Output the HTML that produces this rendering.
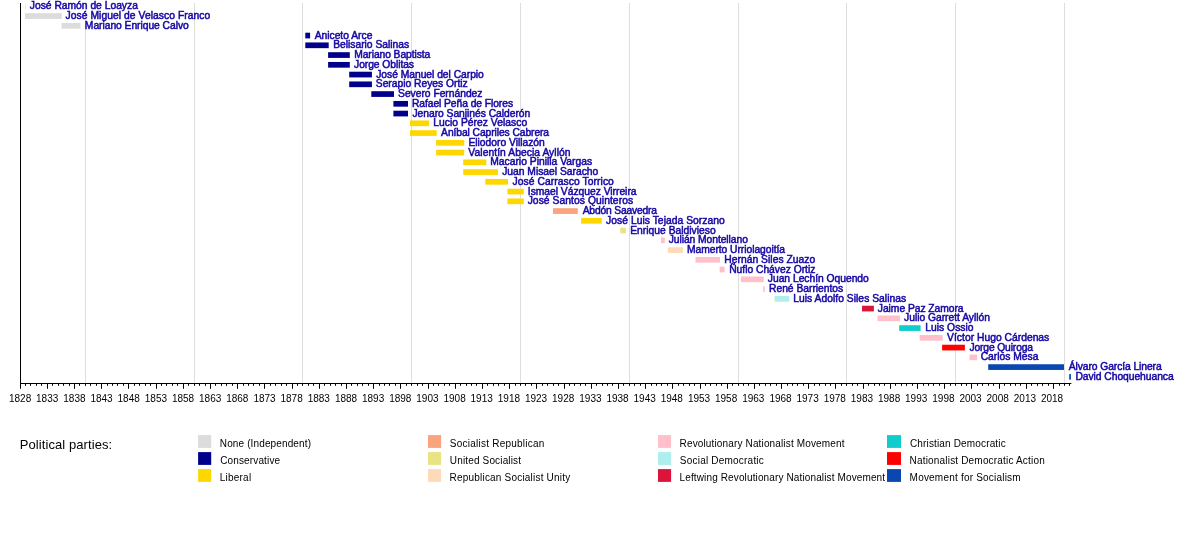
<!DOCTYPE html>
<html lang="es"><head><meta charset="utf-8"><title>Vicepresidentes de Bolivia</title>
<style>
html,body{margin:0;padding:0;background:#fff}
svg{display:block}
text{font-family:"Liberation Sans",sans-serif}
.n{font-size:10.3px;fill:#1607a4;stroke:#1607a4;stroke-width:.5px}
.y{font-size:10px;fill:#000;text-anchor:middle}
.l{font-size:10px;fill:#000}
.t{font-size:13px;fill:#000}
</style></head><body>
<svg width="1200" height="533" viewBox="0 0 1200 533">
<rect width="1200" height="533" fill="#fff"/>
<rect x="85" y="3" width="1" height="380" fill="#dedede"/>
<rect x="194" y="3" width="1" height="380" fill="#dedede"/>
<rect x="302" y="3" width="1" height="380" fill="#dedede"/>
<rect x="411" y="3" width="1" height="380" fill="#dedede"/>
<rect x="520" y="3" width="1" height="380" fill="#dedede"/>
<rect x="629" y="3" width="1" height="380" fill="#dedede"/>
<rect x="738" y="3" width="1" height="380" fill="#dedede"/>
<rect x="846" y="3" width="1" height="380" fill="#dedede"/>
<rect x="955" y="3" width="1" height="380" fill="#dedede"/>
<rect x="1064" y="3" width="1" height="380" fill="#dedede"/>
<rect x="25.0" y="3.45" width="1.0" height="5.7" fill="#dcdcdc" opacity=".55"/>
<rect x="25.0" y="13.20" width="36.7" height="5.7" fill="#dcdcdc"/>
<rect x="61.6" y="22.95" width="18.9" height="5.7" fill="#dcdcdc"/>
<rect x="305.3" y="32.70" width="4.8" height="5.7" fill="#00008b"/>
<rect x="305.3" y="42.45" width="23.4" height="5.7" fill="#00008b"/>
<rect x="328.1" y="52.20" width="21.7" height="5.7" fill="#00008b"/>
<rect x="328.1" y="61.96" width="21.7" height="5.7" fill="#00008b"/>
<rect x="349.2" y="71.71" width="22.7" height="5.7" fill="#00008b"/>
<rect x="349.2" y="81.46" width="22.7" height="5.7" fill="#00008b"/>
<rect x="371.3" y="91.21" width="22.7" height="5.7" fill="#00008b"/>
<rect x="393.4" y="100.96" width="14.6" height="5.7" fill="#00008b"/>
<rect x="393.4" y="110.71" width="14.6" height="5.7" fill="#00008b"/>
<rect x="410.0" y="120.46" width="19.0" height="5.7" fill="#ffd700"/>
<rect x="410.0" y="130.21" width="26.7" height="5.7" fill="#ffd700"/>
<rect x="436.1" y="139.96" width="28.1" height="5.7" fill="#ffd700"/>
<rect x="436.1" y="149.72" width="28.1" height="5.7" fill="#ffd700"/>
<rect x="463.2" y="159.47" width="23.1" height="5.7" fill="#ffd700"/>
<rect x="463.2" y="169.22" width="34.7" height="5.7" fill="#ffd700"/>
<rect x="485.3" y="178.97" width="22.7" height="5.7" fill="#ffd700"/>
<rect x="507.4" y="188.72" width="16.4" height="5.7" fill="#ffd700"/>
<rect x="507.4" y="198.47" width="16.4" height="5.7" fill="#ffd700"/>
<rect x="553.0" y="208.22" width="24.8" height="5.7" fill="#f9a47c"/>
<rect x="581.1" y="217.97" width="20.7" height="5.7" fill="#ffd700"/>
<rect x="620.3" y="227.72" width="5.6" height="5.7" fill="#e9e383"/>
<rect x="661.0" y="237.47" width="3.8" height="5.7" fill="#ffc0cb"/>
<rect x="667.8" y="247.22" width="15.1" height="5.7" fill="#ffdab9"/>
<rect x="695.5" y="256.98" width="24.5" height="5.7" fill="#ffc0cb"/>
<rect x="719.6" y="266.73" width="5.0" height="5.7" fill="#ffc0cb"/>
<rect x="741.0" y="276.48" width="22.7" height="5.7" fill="#ffc0cb"/>
<rect x="763.1" y="286.23" width="1.6" height="5.7" fill="#ffc0cb"/>
<rect x="774.6" y="295.98" width="14.6" height="5.7" fill="#afeeee"/>
<rect x="862.0" y="305.73" width="11.9" height="5.7" fill="#dc143c"/>
<rect x="877.5" y="315.48" width="22.5" height="5.7" fill="#ffc0cb"/>
<rect x="899.2" y="325.23" width="21.4" height="5.7" fill="#10cccc"/>
<rect x="919.6" y="334.98" width="23.1" height="5.7" fill="#ffc0cb"/>
<rect x="942.1" y="344.73" width="22.8" height="5.7" fill="#ff0000"/>
<rect x="969.5" y="354.49" width="7.6" height="5.7" fill="#ffc0cb"/>
<rect x="988.2" y="364.24" width="75.8" height="5.7" fill="#0b47b0"/>
<rect x="1069.2" y="373.99" width="1.7" height="5.7" fill="#0b47b0"/>
<rect x="20" y="3" width="1" height="381" fill="#000"/>
<rect x="20" y="383" width="1051.3" height="1" fill="#000"/>
<rect x="20" y="383" width="1" height="5.8" fill="#000"/>
<rect x="25" y="383" width="1" height="2.8" fill="#000"/>
<rect x="30" y="383" width="1" height="2.8" fill="#000"/>
<rect x="36" y="383" width="1" height="2.8" fill="#000"/>
<rect x="41" y="383" width="1" height="2.8" fill="#000"/>
<rect x="47" y="383" width="1" height="5.8" fill="#000"/>
<rect x="52" y="383" width="1" height="2.8" fill="#000"/>
<rect x="58" y="383" width="1" height="2.8" fill="#000"/>
<rect x="63" y="383" width="1" height="2.8" fill="#000"/>
<rect x="69" y="383" width="1" height="2.8" fill="#000"/>
<rect x="74" y="383" width="1" height="5.8" fill="#000"/>
<rect x="79" y="383" width="1" height="2.8" fill="#000"/>
<rect x="85" y="383" width="1" height="2.8" fill="#000"/>
<rect x="90" y="383" width="1" height="2.8" fill="#000"/>
<rect x="96" y="383" width="1" height="2.8" fill="#000"/>
<rect x="101" y="383" width="1" height="5.8" fill="#000"/>
<rect x="107" y="383" width="1" height="2.8" fill="#000"/>
<rect x="112" y="383" width="1" height="2.8" fill="#000"/>
<rect x="117" y="383" width="1" height="2.8" fill="#000"/>
<rect x="123" y="383" width="1" height="2.8" fill="#000"/>
<rect x="128" y="383" width="1" height="5.8" fill="#000"/>
<rect x="134" y="383" width="1" height="2.8" fill="#000"/>
<rect x="139" y="383" width="1" height="2.8" fill="#000"/>
<rect x="145" y="383" width="1" height="2.8" fill="#000"/>
<rect x="150" y="383" width="1" height="2.8" fill="#000"/>
<rect x="156" y="383" width="1" height="5.8" fill="#000"/>
<rect x="161" y="383" width="1" height="2.8" fill="#000"/>
<rect x="166" y="383" width="1" height="2.8" fill="#000"/>
<rect x="172" y="383" width="1" height="2.8" fill="#000"/>
<rect x="177" y="383" width="1" height="2.8" fill="#000"/>
<rect x="183" y="383" width="1" height="5.8" fill="#000"/>
<rect x="188" y="383" width="1" height="2.8" fill="#000"/>
<rect x="194" y="383" width="1" height="2.8" fill="#000"/>
<rect x="199" y="383" width="1" height="2.8" fill="#000"/>
<rect x="205" y="383" width="1" height="2.8" fill="#000"/>
<rect x="210" y="383" width="1" height="5.8" fill="#000"/>
<rect x="215" y="383" width="1" height="2.8" fill="#000"/>
<rect x="221" y="383" width="1" height="2.8" fill="#000"/>
<rect x="226" y="383" width="1" height="2.8" fill="#000"/>
<rect x="232" y="383" width="1" height="2.8" fill="#000"/>
<rect x="237" y="383" width="1" height="5.8" fill="#000"/>
<rect x="243" y="383" width="1" height="2.8" fill="#000"/>
<rect x="248" y="383" width="1" height="2.8" fill="#000"/>
<rect x="253" y="383" width="1" height="2.8" fill="#000"/>
<rect x="259" y="383" width="1" height="2.8" fill="#000"/>
<rect x="264" y="383" width="1" height="5.8" fill="#000"/>
<rect x="270" y="383" width="1" height="2.8" fill="#000"/>
<rect x="275" y="383" width="1" height="2.8" fill="#000"/>
<rect x="281" y="383" width="1" height="2.8" fill="#000"/>
<rect x="286" y="383" width="1" height="2.8" fill="#000"/>
<rect x="292" y="383" width="1" height="5.8" fill="#000"/>
<rect x="297" y="383" width="1" height="2.8" fill="#000"/>
<rect x="302" y="383" width="1" height="2.8" fill="#000"/>
<rect x="308" y="383" width="1" height="2.8" fill="#000"/>
<rect x="313" y="383" width="1" height="2.8" fill="#000"/>
<rect x="319" y="383" width="1" height="5.8" fill="#000"/>
<rect x="324" y="383" width="1" height="2.8" fill="#000"/>
<rect x="330" y="383" width="1" height="2.8" fill="#000"/>
<rect x="335" y="383" width="1" height="2.8" fill="#000"/>
<rect x="341" y="383" width="1" height="2.8" fill="#000"/>
<rect x="346" y="383" width="1" height="5.8" fill="#000"/>
<rect x="351" y="383" width="1" height="2.8" fill="#000"/>
<rect x="357" y="383" width="1" height="2.8" fill="#000"/>
<rect x="362" y="383" width="1" height="2.8" fill="#000"/>
<rect x="368" y="383" width="1" height="2.8" fill="#000"/>
<rect x="373" y="383" width="1" height="5.8" fill="#000"/>
<rect x="379" y="383" width="1" height="2.8" fill="#000"/>
<rect x="384" y="383" width="1" height="2.8" fill="#000"/>
<rect x="389" y="383" width="1" height="2.8" fill="#000"/>
<rect x="395" y="383" width="1" height="2.8" fill="#000"/>
<rect x="400" y="383" width="1" height="5.8" fill="#000"/>
<rect x="406" y="383" width="1" height="2.8" fill="#000"/>
<rect x="411" y="383" width="1" height="2.8" fill="#000"/>
<rect x="417" y="383" width="1" height="2.8" fill="#000"/>
<rect x="422" y="383" width="1" height="2.8" fill="#000"/>
<rect x="428" y="383" width="1" height="5.8" fill="#000"/>
<rect x="433" y="383" width="1" height="2.8" fill="#000"/>
<rect x="438" y="383" width="1" height="2.8" fill="#000"/>
<rect x="444" y="383" width="1" height="2.8" fill="#000"/>
<rect x="449" y="383" width="1" height="2.8" fill="#000"/>
<rect x="455" y="383" width="1" height="5.8" fill="#000"/>
<rect x="460" y="383" width="1" height="2.8" fill="#000"/>
<rect x="466" y="383" width="1" height="2.8" fill="#000"/>
<rect x="471" y="383" width="1" height="2.8" fill="#000"/>
<rect x="476" y="383" width="1" height="2.8" fill="#000"/>
<rect x="482" y="383" width="1" height="5.8" fill="#000"/>
<rect x="487" y="383" width="1" height="2.8" fill="#000"/>
<rect x="493" y="383" width="1" height="2.8" fill="#000"/>
<rect x="498" y="383" width="1" height="2.8" fill="#000"/>
<rect x="504" y="383" width="1" height="2.8" fill="#000"/>
<rect x="509" y="383" width="1" height="5.8" fill="#000"/>
<rect x="515" y="383" width="1" height="2.8" fill="#000"/>
<rect x="520" y="383" width="1" height="2.8" fill="#000"/>
<rect x="525" y="383" width="1" height="2.8" fill="#000"/>
<rect x="531" y="383" width="1" height="2.8" fill="#000"/>
<rect x="536" y="383" width="1" height="5.8" fill="#000"/>
<rect x="542" y="383" width="1" height="2.8" fill="#000"/>
<rect x="547" y="383" width="1" height="2.8" fill="#000"/>
<rect x="553" y="383" width="1" height="2.8" fill="#000"/>
<rect x="558" y="383" width="1" height="2.8" fill="#000"/>
<rect x="564" y="383" width="1" height="5.8" fill="#000"/>
<rect x="569" y="383" width="1" height="2.8" fill="#000"/>
<rect x="574" y="383" width="1" height="2.8" fill="#000"/>
<rect x="580" y="383" width="1" height="2.8" fill="#000"/>
<rect x="585" y="383" width="1" height="2.8" fill="#000"/>
<rect x="591" y="383" width="1" height="5.8" fill="#000"/>
<rect x="596" y="383" width="1" height="2.8" fill="#000"/>
<rect x="602" y="383" width="1" height="2.8" fill="#000"/>
<rect x="607" y="383" width="1" height="2.8" fill="#000"/>
<rect x="612" y="383" width="1" height="2.8" fill="#000"/>
<rect x="618" y="383" width="1" height="5.8" fill="#000"/>
<rect x="623" y="383" width="1" height="2.8" fill="#000"/>
<rect x="629" y="383" width="1" height="2.8" fill="#000"/>
<rect x="634" y="383" width="1" height="2.8" fill="#000"/>
<rect x="640" y="383" width="1" height="2.8" fill="#000"/>
<rect x="645" y="383" width="1" height="5.8" fill="#000"/>
<rect x="651" y="383" width="1" height="2.8" fill="#000"/>
<rect x="656" y="383" width="1" height="2.8" fill="#000"/>
<rect x="661" y="383" width="1" height="2.8" fill="#000"/>
<rect x="667" y="383" width="1" height="2.8" fill="#000"/>
<rect x="672" y="383" width="1" height="5.8" fill="#000"/>
<rect x="678" y="383" width="1" height="2.8" fill="#000"/>
<rect x="683" y="383" width="1" height="2.8" fill="#000"/>
<rect x="689" y="383" width="1" height="2.8" fill="#000"/>
<rect x="694" y="383" width="1" height="2.8" fill="#000"/>
<rect x="700" y="383" width="1" height="5.8" fill="#000"/>
<rect x="705" y="383" width="1" height="2.8" fill="#000"/>
<rect x="710" y="383" width="1" height="2.8" fill="#000"/>
<rect x="716" y="383" width="1" height="2.8" fill="#000"/>
<rect x="721" y="383" width="1" height="2.8" fill="#000"/>
<rect x="727" y="383" width="1" height="5.8" fill="#000"/>
<rect x="732" y="383" width="1" height="2.8" fill="#000"/>
<rect x="738" y="383" width="1" height="2.8" fill="#000"/>
<rect x="743" y="383" width="1" height="2.8" fill="#000"/>
<rect x="748" y="383" width="1" height="2.8" fill="#000"/>
<rect x="754" y="383" width="1" height="5.8" fill="#000"/>
<rect x="759" y="383" width="1" height="2.8" fill="#000"/>
<rect x="765" y="383" width="1" height="2.8" fill="#000"/>
<rect x="770" y="383" width="1" height="2.8" fill="#000"/>
<rect x="776" y="383" width="1" height="2.8" fill="#000"/>
<rect x="781" y="383" width="1" height="5.8" fill="#000"/>
<rect x="787" y="383" width="1" height="2.8" fill="#000"/>
<rect x="792" y="383" width="1" height="2.8" fill="#000"/>
<rect x="797" y="383" width="1" height="2.8" fill="#000"/>
<rect x="803" y="383" width="1" height="2.8" fill="#000"/>
<rect x="808" y="383" width="1" height="5.8" fill="#000"/>
<rect x="814" y="383" width="1" height="2.8" fill="#000"/>
<rect x="819" y="383" width="1" height="2.8" fill="#000"/>
<rect x="825" y="383" width="1" height="2.8" fill="#000"/>
<rect x="830" y="383" width="1" height="2.8" fill="#000"/>
<rect x="835" y="383" width="1" height="5.8" fill="#000"/>
<rect x="841" y="383" width="1" height="2.8" fill="#000"/>
<rect x="846" y="383" width="1" height="2.8" fill="#000"/>
<rect x="852" y="383" width="1" height="2.8" fill="#000"/>
<rect x="857" y="383" width="1" height="2.8" fill="#000"/>
<rect x="863" y="383" width="1" height="5.8" fill="#000"/>
<rect x="868" y="383" width="1" height="2.8" fill="#000"/>
<rect x="874" y="383" width="1" height="2.8" fill="#000"/>
<rect x="879" y="383" width="1" height="2.8" fill="#000"/>
<rect x="884" y="383" width="1" height="2.8" fill="#000"/>
<rect x="890" y="383" width="1" height="5.8" fill="#000"/>
<rect x="895" y="383" width="1" height="2.8" fill="#000"/>
<rect x="901" y="383" width="1" height="2.8" fill="#000"/>
<rect x="906" y="383" width="1" height="2.8" fill="#000"/>
<rect x="912" y="383" width="1" height="2.8" fill="#000"/>
<rect x="917" y="383" width="1" height="5.8" fill="#000"/>
<rect x="923" y="383" width="1" height="2.8" fill="#000"/>
<rect x="928" y="383" width="1" height="2.8" fill="#000"/>
<rect x="933" y="383" width="1" height="2.8" fill="#000"/>
<rect x="939" y="383" width="1" height="2.8" fill="#000"/>
<rect x="944" y="383" width="1" height="5.8" fill="#000"/>
<rect x="950" y="383" width="1" height="2.8" fill="#000"/>
<rect x="955" y="383" width="1" height="2.8" fill="#000"/>
<rect x="961" y="383" width="1" height="2.8" fill="#000"/>
<rect x="966" y="383" width="1" height="2.8" fill="#000"/>
<rect x="971" y="383" width="1" height="5.8" fill="#000"/>
<rect x="977" y="383" width="1" height="2.8" fill="#000"/>
<rect x="982" y="383" width="1" height="2.8" fill="#000"/>
<rect x="988" y="383" width="1" height="2.8" fill="#000"/>
<rect x="993" y="383" width="1" height="2.8" fill="#000"/>
<rect x="999" y="383" width="1" height="5.8" fill="#000"/>
<rect x="1004" y="383" width="1" height="2.8" fill="#000"/>
<rect x="1010" y="383" width="1" height="2.8" fill="#000"/>
<rect x="1015" y="383" width="1" height="2.8" fill="#000"/>
<rect x="1020" y="383" width="1" height="2.8" fill="#000"/>
<rect x="1026" y="383" width="1" height="5.8" fill="#000"/>
<rect x="1031" y="383" width="1" height="2.8" fill="#000"/>
<rect x="1037" y="383" width="1" height="2.8" fill="#000"/>
<rect x="1042" y="383" width="1" height="2.8" fill="#000"/>
<rect x="1048" y="383" width="1" height="2.8" fill="#000"/>
<rect x="1053" y="383" width="1" height="5.8" fill="#000"/>
<rect x="1059" y="383" width="1" height="2.8" fill="#000"/>
<rect x="1064" y="383" width="1" height="2.8" fill="#000"/>
<rect x="1069" y="383" width="1" height="2.8" fill="#000"/>
<text class="y" x="20.1" y="401.7">1828</text>
<text class="y" x="47.2" y="401.7">1833</text>
<text class="y" x="74.4" y="401.7">1838</text>
<text class="y" x="101.5" y="401.7">1843</text>
<text class="y" x="128.7" y="401.7">1848</text>
<text class="y" x="155.9" y="401.7">1853</text>
<text class="y" x="183.0" y="401.7">1858</text>
<text class="y" x="210.2" y="401.7">1863</text>
<text class="y" x="237.3" y="401.7">1868</text>
<text class="y" x="264.5" y="401.7">1873</text>
<text class="y" x="291.6" y="401.7">1878</text>
<text class="y" x="318.8" y="401.7">1883</text>
<text class="y" x="346.0" y="401.7">1888</text>
<text class="y" x="373.1" y="401.7">1893</text>
<text class="y" x="400.3" y="401.7">1898</text>
<text class="y" x="427.4" y="401.7">1903</text>
<text class="y" x="454.6" y="401.7">1908</text>
<text class="y" x="481.7" y="401.7">1913</text>
<text class="y" x="508.9" y="401.7">1918</text>
<text class="y" x="536.0" y="401.7">1923</text>
<text class="y" x="563.2" y="401.7">1928</text>
<text class="y" x="590.4" y="401.7">1933</text>
<text class="y" x="617.5" y="401.7">1938</text>
<text class="y" x="644.7" y="401.7">1943</text>
<text class="y" x="671.8" y="401.7">1948</text>
<text class="y" x="699.0" y="401.7">1953</text>
<text class="y" x="726.1" y="401.7">1958</text>
<text class="y" x="753.3" y="401.7">1963</text>
<text class="y" x="780.5" y="401.7">1968</text>
<text class="y" x="807.6" y="401.7">1973</text>
<text class="y" x="834.8" y="401.7">1978</text>
<text class="y" x="861.9" y="401.7">1983</text>
<text class="y" x="889.1" y="401.7">1988</text>
<text class="y" x="916.2" y="401.7">1993</text>
<text class="y" x="943.4" y="401.7">1998</text>
<text class="y" x="970.5" y="401.7">2003</text>
<text class="y" x="997.7" y="401.7">2008</text>
<text class="y" x="1024.9" y="401.7">2013</text>
<text class="y" x="1052.0" y="401.7">2018</text>
<text class="n" id="n0" x="29.83" y="9.45" textLength="108.04">José Ramón de Loayza</text>
<text class="n" id="n1" x="65.54" y="19.20" textLength="144.74">José Miguel de Velasco Franco</text>
<text class="n" id="n2" x="84.86" y="28.95" textLength="103.91">Mariano Enrique Calvo</text>
<text class="n" id="n3" x="314.64" y="38.70" textLength="57.74">Aniceto Arce</text>
<text class="n" id="n4" x="333.14" y="48.45" textLength="76.01">Belisario Salinas</text>
<text class="n" id="n5" x="354.18" y="58.20" textLength="76.11">Mariano Baptista</text>
<text class="n" id="n6" x="354.06" y="67.96" textLength="59.96">Jorge Oblitas</text>
<text class="n" id="n7" x="376.20" y="77.71" textLength="107.65">José Manuel del Carpio</text>
<text class="n" id="n8" x="375.78" y="87.46" textLength="91.96">Serapio Reyes Ortiz</text>
<text class="n" id="n9" x="398.07" y="97.21" textLength="84.38">Severo Fernández</text>
<text class="n" id="n10" x="411.89" y="106.96" textLength="101.16">Rafael Peña de Flores</text>
<text class="n" id="n11" x="412.46" y="116.71" textLength="117.77">Jenaro Sanjinés Calderón</text>
<text class="n" id="n12" x="433.18" y="126.46" textLength="93.99">Lucio Pérez Velasco</text>
<text class="n" id="n13" x="441.10" y="136.21" textLength="108.00">Aníbal Capriles Cabrera</text>
<text class="n" id="n14" x="468.42" y="145.96" textLength="76.35">Eliodoro Villazón</text>
<text class="n" id="n15" x="468.37" y="155.72" textLength="102.17">Valentín Abecia Ayllón</text>
<text class="n" id="n16" x="490.14" y="165.47" textLength="102.06">Macario Pinilla Vargas</text>
<text class="n" id="n17" x="502.20" y="175.22" textLength="96.05">Juan Misael Saracho</text>
<text class="n" id="n18" x="512.46" y="184.97" textLength="101.38">José Carrasco Torrico</text>
<text class="n" id="n19" x="527.78" y="194.72" textLength="108.76">Ismael Vázquez Virreira</text>
<text class="n" id="n20" x="527.66" y="204.47" textLength="105.43">José Santos Quinteros</text>
<text class="n" id="n21" x="582.64" y="214.22" textLength="74.43">Abdón Saavedra</text>
<text class="n" id="n22" x="606.06" y="223.97" textLength="118.73">José Luis Tejada Sorzano</text>
<text class="n" id="n23" x="630.14" y="233.72" textLength="85.58">Enrique Baldivieso</text>
<text class="n" id="n24" x="668.66" y="243.47" textLength="79.23">Julián Montellano</text>
<text class="n" id="n25" x="687.00" y="253.22" textLength="98.03">Mamerto Urriolagoitía</text>
<text class="n" id="n26" x="724.19" y="262.98" textLength="91.10">Hernán Siles Zuazo</text>
<text class="n" id="n27" x="729.18" y="272.73" textLength="86.17">Ñuflo Chávez Ortiz</text>
<text class="n" id="n28" x="767.83" y="282.48" textLength="100.98">Juan Lechín Oquendo</text>
<text class="n" id="n29" x="769.00" y="292.23" textLength="74.24">René Barrientos</text>
<text class="n" id="n30" x="793.18" y="301.98" textLength="113.01">Luis Adolfo Siles Salinas</text>
<text class="n" id="n31" x="877.83" y="311.73" textLength="85.72">Jaime Paz Zamora</text>
<text class="n" id="n32" x="904.06" y="321.48" textLength="85.83">Julio Garrett Ayllón</text>
<text class="n" id="n33" x="925.14" y="331.23" textLength="48.42">Luis Ossio</text>
<text class="n" id="n34" x="947.09" y="340.98" textLength="102.18">Víctor Hugo Cárdenas</text>
<text class="n" id="n35" x="969.43" y="350.73" textLength="63.65">Jorge Quiroga</text>
<text class="n" id="n36" x="980.64" y="360.49" textLength="57.76">Carlos Mesa</text>
<text class="n" id="n37" x="1068.83" y="370.24" textLength="92.79">Álvaro García Linera</text>
<text class="n" id="n38" x="1075.43" y="379.99" textLength="98.21">David Choquehuanca</text>
<text class="t" x="19.7" y="448.6" textLength="92.5">Political parties:</text>
<rect x="198.1" y="435.1" width="13.1" height="12.8" fill="#dcdcdc"/>
<text class="l" id="l0" x="219.82" y="446.7" textLength="91.16">None (Independent)</text>
<rect x="198.1" y="452.1" width="13.1" height="12.8" fill="#00008b"/>
<text class="l" id="l1" x="220.18" y="463.7" textLength="59.92">Conservative</text>
<rect x="198.1" y="469.1" width="13.1" height="12.8" fill="#ffd700"/>
<text class="l" id="l2" x="219.82" y="480.7" textLength="31.30">Liberal</text>
<rect x="428.0" y="435.1" width="13.1" height="12.8" fill="#f9a47c"/>
<text class="l" id="l3" x="449.83" y="446.7" textLength="94.54">Socialist Republican</text>
<rect x="428.0" y="452.1" width="13.1" height="12.8" fill="#e9e383"/>
<text class="l" id="l4" x="449.83" y="463.7" textLength="71.22">United Socialist</text>
<rect x="428.0" y="469.1" width="13.1" height="12.8" fill="#ffdab9"/>
<text class="l" id="l5" x="449.58" y="480.7" textLength="120.59">Republican Socialist Unity</text>
<rect x="658.0" y="435.1" width="13.1" height="12.8" fill="#ffc0cb"/>
<text class="l" id="l6" x="679.58" y="446.7" textLength="164.84">Revolutionary Nationalist Movement</text>
<rect x="658.0" y="452.1" width="13.1" height="12.8" fill="#afeeee"/>
<text class="l" id="l7" x="679.83" y="463.7" textLength="83.98">Social Democratic</text>
<rect x="658.0" y="469.1" width="13.1" height="12.8" fill="#dc143c"/>
<text class="l" id="l8" x="679.58" y="480.7" textLength="205.48">Leftwing Revolutionary Nationalist Movement</text>
<rect x="887.0" y="435.1" width="14" height="12.8" fill="#10cccc"/>
<text class="l" id="l9" x="909.94" y="446.7" textLength="95.71">Christian Democratic</text>
<rect x="887.0" y="452.1" width="14" height="12.8" fill="#ff0000"/>
<text class="l" id="l10" x="909.58" y="463.7" textLength="135.11">Nationalist Democratic Action</text>
<rect x="887.0" y="469.1" width="14" height="12.8" fill="#0b47b0"/>
<text class="l" id="l11" x="909.58" y="480.7" textLength="111.07">Movement for Socialism</text>
</svg>
</body></html>
